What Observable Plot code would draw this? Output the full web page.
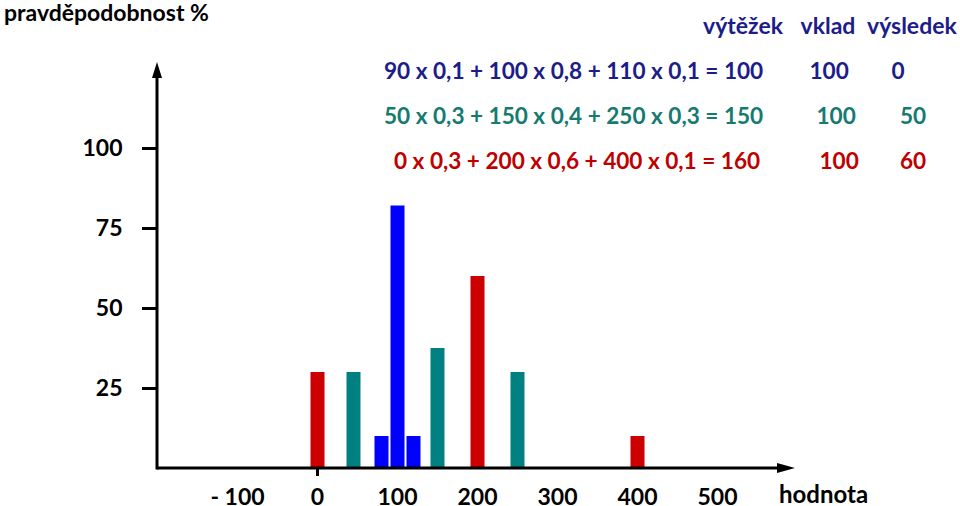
<!DOCTYPE html>
<html>
<head>
<meta charset="utf-8">
<script src="https://cdn.jsdelivr.net/npm/d3@7"></script>
<script src="https://cdn.jsdelivr.net/npm/@observablehq/plot@0.6"></script>
<style>
  html, body { margin: 0; padding: 0; background: #fff; }
  #wrap { position: relative; width: 960px; height: 506px; overflow: hidden;
          font-family: Lato, "Open Sans", sans-serif; font-weight: bold; }
  #wrap svg { position: absolute; left: 0; top: 0; }
  .lbl { position: absolute; white-space: nowrap; line-height: 1; }
</style>
</head>
<body>
<div id="wrap"></div>
<script>
// ---- data ----
const blueX = [80, 100, 120];
const blueP = [10, 82, 10];
const tealX = [45, 150, 250];
const tealP = [30, 37.5, 30];
const redX = [0, 200, 400];
const redP = [30, 60, 10];

const xTicks = [-100, 0, 100, 200, 300, 400, 500];
const xTickLabels = ["- 100", "0", "100", "200", "300", "400", "500"];
const yTicks = [25, 50, 75, 100];

const title = "pravděpodobnost %";
const xTitle = "hodnota";
const headers = ["výtěžek", "vklad", "výsledek"];
const equations = [
  "90 x 0,1 + 100 x 0,8 + 110 x 0,1 = 100",
  "50 x 0,3 + 150 x 0,4 + 250 x 0,3 = 150",
  "0 x 0,3 + 200 x 0,6 + 400 x 0,1 = 160"
];
const deposits = ["100", "100", "100"];
const results = ["0", "50", "60"];

const colors = { blue: "#0000ff", teal: "#008080", red: "#cc0000" };
const textColors = ["#1c1c8a", "#157a70", "#c00000"];
const headerColor = "#1c1c8a";

// ---- build table ----
const bars = [
  ...blueX.map((x, i) => ({ x, p: blueP[i], s: "blue" })),
  ...tealX.map((x, i) => ({ x, p: tealP[i], s: "teal" })),
  ...redX.map((x, i) => ({ x, p: redP[i], s: "red" }))
];

const FONT = 'Lato, "Open Sans", sans-serif';

const plot = Plot.plot({
  width: 960,
  height: 506,
  marginLeft: 157,
  marginRight: 165,
  marginTop: 62,
  marginBottom: 38,
  style: { fontFamily: FONT, fontSize: "22px", fontWeight: "bold", color: "#000", background: "transparent", overflow: "visible" },
  x: { domain: [-200, 597.5], axis: null },
  y: { domain: [0, 126.875], axis: null },
  marks: [
    Plot.ruleX(bars, { x: "x", y1: 0, y2: "p", stroke: d => colors[d.s], strokeWidth: 14 }),
    Plot.axisY({ ticks: yTicks, label: null, tickSize: 15, tickPadding: 20, strokeWidth: 3, fontSize: 23, tickFormat: d => String(d) }),
    Plot.axisX({ ticks: [0], label: null, tickSize: 8, strokeWidth: 3, tickFormat: () => "" }),
    Plot.axisX({ ticks: xTicks, label: null, tickSize: 0, tickPadding: 20, fontSize: 23, tickFormat: (d) => xTickLabels[xTicks.indexOf(d)] })
  ]
});

document.getElementById("wrap").appendChild(plot);

// axis lines with filled arrowheads, placed from the plot's own scales
const sx = plot.scale("x"), sy = plot.scale("y");
const x0 = sx.apply(-200), xEnd = sx.apply(597.5);
const y0 = sy.apply(0), yEnd = sy.apply(126.875);
const svg = d3.select(plot);
const g = svg.append("g");
g.append("line").attr("x1", x0).attr("x2", xEnd - 14).attr("y1", y0).attr("y2", y0)
  .attr("stroke", "#000").attr("stroke-width", 3);
g.append("line").attr("x1", x0).attr("x2", x0).attr("y1", y0 + 1.5).attr("y2", yEnd + 14)
  .attr("stroke", "#000").attr("stroke-width", 3);
g.append("path").attr("d", `M${xEnd},${y0}L${xEnd - 18},${y0 - 5}L${xEnd - 18},${y0 + 5}Z`).attr("fill", "#000");
g.append("path").attr("d", `M${x0},${yEnd}L${x0 - 5},${yEnd + 16}L${x0 + 5},${yEnd + 16}Z`).attr("fill", "#000");

// ---- html labels ----
const wrap = document.getElementById("wrap");
function label(text, css) {
  const d = document.createElement("div");
  d.className = "lbl";
  d.textContent = text;
  Object.assign(d.style, css);
  wrap.appendChild(d);
  return d;
}
function centered(text, cx, top, css) {
  const d = label(text, Object.assign({ top: top + "px", left: "0px" }, css));
  d.style.left = (cx - d.offsetWidth / 2) + "px";
  return d;
}
function rightAligned(text, rx, top, css) {
  const d = label(text, Object.assign({ top: top + "px", left: "0px" }, css));
  d.style.left = (rx - d.offsetWidth) + "px";
  return d;
}

label(title, { left: "4px", top: "1px", fontSize: "23px", color: "#000" });
label(xTitle, { left: "779px", top: "482px", fontSize: "24px", color: "#000" });

const headerCenters = [743, 828, 912];
headers.forEach((h, i) => centered(h, headerCenters[i], 14, { fontSize: "23px", color: headerColor }));

const eqRight = [763, 763, 760];
const depCenter = [829, 836, 839];
const resCenter = [898, 913, 913];
const rowTop = [60, 105, 150];
equations.forEach((e, i) => {
  const css = { fontSize: "22.6px", color: textColors[i] };
  rightAligned(e, eqRight[i], rowTop[i], css);
  centered(deposits[i], depCenter[i], rowTop[i], css);
  centered(results[i], resCenter[i], rowTop[i], css);
});
</script>
</body>
</html>
